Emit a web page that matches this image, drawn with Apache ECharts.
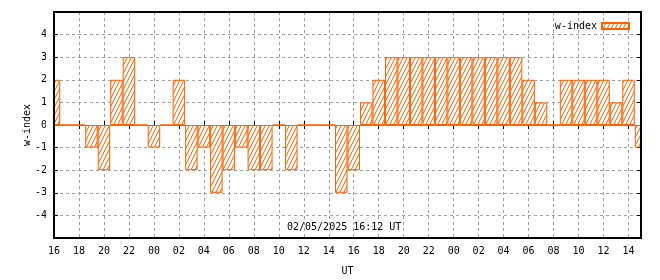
<!DOCTYPE html>
<html>
<head>
<meta charset="utf-8">
<script src="https://cdn.jsdelivr.net/npm/echarts@6/dist/echarts.min.js"></script>
<style>html,body{margin:0;padding:0;background:#fff;}#c{width:660px;height:280px;}</style>
</head>
<body>
<div id="c"></div>
<script>
// Hourly categories (UT), 16:00 day 1 to 15:00 day 2
var hours = ['16','17','18','19','20','21','22','23',
             '00','01','02','03','04','05','06','07','08','09','10','11','12','13','14','15',
             '16','17','18','19','20','21','22','23',
             '00','01','02','03','04','05','06','07','08','09','10','11','12','13','14','15'];
// w-index values per hour
var wIndex = [2,0,0,-1,-2,2,3,0,
              -1,0,2,-2,-1,-3,-2,-1,-2,-2,0,-2,0,0,0,-3,
              -2,1,2,3,3,3,3,3,
              3,3,3,3,3,3,2,1,0,2,2,2,2,1,2,-1];
var yTicks = [-5,-4,-3,-2,-1,0,1,2,3,4,5];
var seriesName = 'w-index';
var stamp = '02/05/2025 16:12 UT';

var ORANGE = '#ff6000';
var FONT = 'DejaVu Sans Mono';
var W = 660, H = 280;
var G = {left: 54, right: 19, top: 12, bottom: 42};

// hatch pattern
var pc = document.createElement('canvas');
pc.width = 4; pc.height = 8;
var g = pc.getContext('2d');
g.fillStyle = '#fff'; g.fillRect(0,0,4,8);
g.strokeStyle = ORANGE; g.lineWidth = 1;
[[0,8],[-4,8],[4,8]].forEach(function(o){
  g.beginPath(); g.moveTo(o[0]-1, o[1]+2); g.lineTo(o[0]+5, o[1]-10); g.stroke();
});

var chart = echarts.init(document.getElementById('c'), null, {renderer:'canvas'});
var txt = {fontFamily: FONT, fontSize: 10, color: '#000'};
chart.setOption({
  animation: false,
  backgroundColor: '#fff',
  grid: {left: G.left, right: G.right, top: G.top, bottom: G.bottom, show: true, borderColor: '#000', borderWidth: 2,
         backgroundColor: 'transparent', z: 10, containLabel: false, outerBoundsMode: 'none'},
  legend: {
    right: 25, top: 16, align: 'right', itemWidth: 27, itemHeight: 6,
    data: [{name: seriesName, icon: 'rect'}],
    textStyle: txt
  },
  xAxis: [{
    type: 'category', data: hours, boundaryGap: false, position: 'bottom',
    axisLine: {show: false},
    axisTick: {show: true, inside: true, length: 4, interval: 1, lineStyle: {color: '#000'}},
    axisLabel: Object.assign({interval: 1, margin: 8}, txt),
    splitLine: {show: true, interval: 1, lineStyle: {color: '#a0a0a0', type: [3,3], width: 1}},
    name: 'UT', nameLocation: 'middle', nameGap: 28, nameMoveOverlap: false, nameTextStyle: txt
  },{
    type: 'category', data: hours, boundaryGap: false, position: 'top',
    axisLine: {show: false},
    axisTick: {show: true, inside: true, length: 4, interval: 1, lineStyle: {color: '#000'}},
    axisLabel: {show: false}, splitLine: {show: false}
  }],
  yAxis: [{
    type: 'value', min: yTicks[0], max: yTicks[yTicks.length-1], interval: 1,
    axisLine: {show: false},
    axisTick: {show: true, inside: true, length: 4, lineStyle: {color: '#000'}},
    axisLabel: Object.assign({margin: 7, formatter: function(v){ return Math.abs(v) === 5 ? '' : String(v); }}, txt),
    splitLine: {show: true, lineStyle: {color: '#a0a0a0', type: [3,3], width: 1}},
    name: seriesName, nameLocation: 'middle', nameGap: 22, nameMoveOverlap: false, nameTextStyle: txt
  },{
    type: 'value', min: yTicks[0], max: yTicks[yTicks.length-1], interval: 1, position: 'right',
    axisLine: {show: false},
    axisTick: {show: true, inside: true, length: 4, lineStyle: {color: '#000'}},
    axisLabel: {show: false}, splitLine: {show: false}
  }],
  graphic: [{
    type: 'text', left: 287, top: 222,
    style: {text: stamp, font: '10px "' + FONT + '"', fill: '#000'}, z: 20
  },{
    // masks to clip half-bars overflowing the plot edges
    type: 'rect', z: 5, silent: true,
    shape: {x: G.left - 8, y: G.top - 2, width: 8, height: H - G.top - G.bottom + 4},
    style: {fill: '#fff'}
  },{
    type: 'rect', z: 5, silent: true,
    shape: {x: W - G.right, y: G.top - 2, width: G.right, height: H - G.top - G.bottom + 4},
    style: {fill: '#fff'}
  }],
  series: [{
    name: seriesName, type: 'bar', data: wIndex, barCategoryGap: '0%', clip: true,
    itemStyle: {color: {image: pc, repeat: 'repeat'}, borderColor: ORANGE, borderWidth: 1},
    markLine: {silent: true, symbol: 'none', label: {show: false},
      lineStyle: {color: ORANGE, width: 1, type: 'solid'}, data: [{yAxis: 0}]}
  }]
});
</script>
</body>
</html>
